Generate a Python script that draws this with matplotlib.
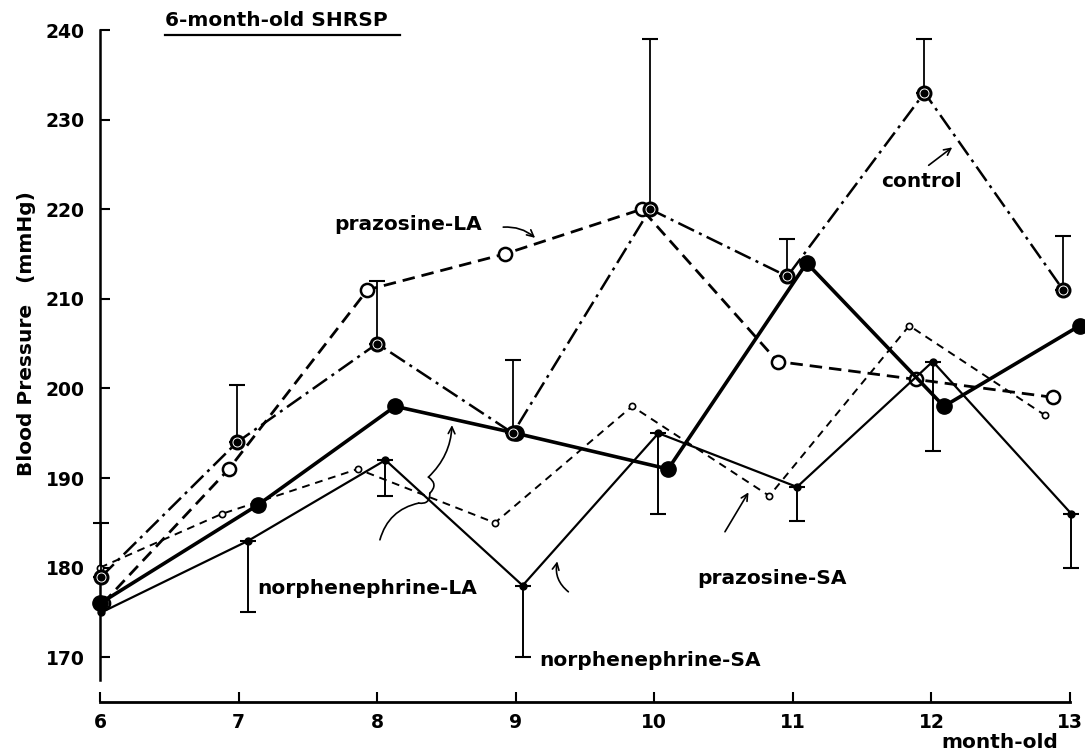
import matplotlib
matplotlib.use("Agg")
import matplotlib.pyplot as plt
from matplotlib.lines import Line2D
import numpy as np

# ---------------- data ----------------
months = [6, 7, 8, 9, 10, 11, 12, 13]
x_ticks = [6, 7, 8, 9, 10, 11, 12, 13]
y_ticks = [170, 180, 190, 200, 210, 220, 230, 240]

control = [179, 194, 205, 195, 220, 212.5, 233, 211]
control_se = [6, 6.4, 7, 8.2, 19, 4.2, 6, 6]          # upper error bars

prazosine_la = [176, 191, 211, 215, 220, 203, 201, 199]
norphen_la = [176, 187, 198, 195, 191, 214, 198, 207]

norphen_sa = [175, 183, 192, 178, 195, 189, 203, 186]
norphen_sa_se = [np.nan, 8, 4, 8, 9, 3.8, 10, 6]       # lower error bars

prazosine_sa = [180, 186, 191, 185, 198, 188, 207, 197]

# ---------------- figure ----------------
W, H = 1085, 754
fig = plt.figure(figsize=(W / 100, H / 100), dpi=100)
ax = fig.add_axes([100 / W, 1 - 702 / H, 970 / W, 672 / H])
ax.set_xlim(6, 13)
ax.set_ylim(165, 240)

FONT = "DejaVu Sans"

# horizontal dodge of each series (style, not data)
off_control = [0.01, -0.01, 0.0, -0.02, -0.03, -0.04, -0.05, -0.05]
off_pla = [0.02, -0.07, -0.07, -0.08, -0.09, -0.11, -0.11, -0.12]
off_nla = [0.0, 0.14, 0.13, 0.0, 0.10, 0.10, 0.09, 0.07]
off_nsa = [0.01, 0.07, 0.06, 0.05, 0.03, 0.03, 0.01, 0.01]
off_psa = [0.0, -0.12, -0.14, -0.15, -0.16, -0.17, -0.16, -0.18]

def xs(off):
    return [m + o for m, o in zip(months, off)]

# prazosine-SA: thin short dashes, small open circles
ax.plot(xs(off_psa), prazosine_sa, color="black", lw=1.4, dashes=(4, 3),
        marker="o", ms=4.5, mfc="white", mec="black", mew=1.2, clip_on=False, zorder=3)

# prazosine-LA: heavy dashes, large open circles
ax.plot(xs(off_pla), prazosine_la, color="black", lw=2.0, dashes=(4.5, 2.5),
        marker="o", ms=9.5, mfc="white", mec="black", mew=1.8, clip_on=False, zorder=4)

# control: dash-dot
ax.plot(xs(off_control), control, color="black", lw=1.8, dashes=(7, 2.2, 1.2, 2.2),
        clip_on=False, zorder=4)
ax.errorbar(xs(off_control), control, yerr=[np.zeros(len(control)), control_se],
            fmt="none", ecolor="black", elinewidth=1.3, capsize=6, capthick=1.5,
            clip_on=False, zorder=3)
ax.plot(xs(off_control), control, ls="none", marker="o", ms=10.5, mfc="black",
        mec="black", clip_on=False, zorder=6)
ax.plot(xs(off_control), control, ls="none", marker="o", ms=6.5, mfc="black",
        mec="white", mew=0.7, clip_on=False, zorder=7)

# norphenephrine-SA: thin solid, small dots, lower error bars
ax.plot(xs(off_nsa), norphen_sa, color="black", lw=1.6, marker="o", ms=5,
        mfc="black", mec="black", clip_on=False, zorder=5)
ax.errorbar(xs(off_nsa)[1:], norphen_sa[1:],
            yerr=[norphen_sa_se[1:], np.zeros(len(norphen_sa) - 1)],
            fmt="none", ecolor="black", elinewidth=1.4, capsize=6, capthick=1.5,
            clip_on=False, zorder=3)

# norphenephrine-LA: thick solid, large filled circles
ax.plot(xs(off_nla), norphen_la, color="black", lw=2.6, marker="o", ms=11,
        mfc="black", mec="black", clip_on=False, zorder=6)

# ---------------- axes styling ----------------
for s in ["top", "right"]:
    ax.spines[s].set_visible(False)
ax.spines["left"].set_bounds(167.5, 240)
ax.spines["left"].set_linewidth(1.8)
ax.spines["bottom"].set_linewidth(2.0)
ax.spines["bottom"].set_bounds(6, 13)

ax.set_xticks(x_ticks)
ax.set_yticks(y_ticks)
ax.set_xticklabels([str(v) for v in x_ticks], fontfamily=FONT, fontweight="bold", fontsize=13.5)
ax.set_yticklabels([str(v) for v in y_ticks], fontfamily=FONT, fontweight="bold", fontsize=13.5)
ax.tick_params(axis="x", direction="in", length=7, width=1.5, pad=8)
ax.tick_params(axis="y", direction="in", length=7, width=1.5, pad=11)

txt = dict(fontfamily=FONT, fontweight="bold", fontsize=14.5, color="black")

# labels
fig.text(27 / W, 1 - 334 / H, "Blood Pressure   (mmHg)", rotation=90,
         ha="center", va="center", **txt)
fig.text(1000 / W, 1 - 742 / H, "month-old", ha="center", va="center", **txt)
fig.text(165 / W, 1 - 20 / H, "6-month-old SHRSP", ha="left", va="center",
         fontfamily=FONT, fontweight="bold", fontsize=14.5)
fig.add_artist(Line2D([165 / W, 400 / W], [1 - 35 / H, 1 - 35 / H], color="black",
                      lw=1.6, transform=fig.transFigure))

# series annotations
arrow = dict(arrowstyle="->", color="black", lw=1.2, shrinkA=0, shrinkB=0,
             mutation_scale=12)

ax.text(8.22, 218.3, "prazosine-LA", ha="center", va="center", **txt)
ax.annotate("", xy=(9.14, 216.8), xytext=(8.91, 218.0),
            arrowprops=dict(arrow, connectionstyle="arc3,rad=-0.2"))

ax.text(11.93, 223.1, "control", ha="center", va="center", **txt)
ax.annotate("", xy=(12.15, 226.9), xytext=(11.98, 224.9),
            arrowprops=dict(arrow, connectionstyle="arc3,rad=0.0"))

ax.text(7.93, 177.7, "norphenephrine-LA", ha="center", va="center", **txt)
# brace-like connector and arrow
ax.annotate("", xy=(8.3, 187.2), xytext=(8.02, 183.1),
            arrowprops=dict(arrowstyle="-", color="black", lw=1.2,
                            connectionstyle="arc3,rad=-0.3", shrinkA=0, shrinkB=0))
ax.annotate("", xy=(8.38, 188.3), xytext=(8.3, 187.2),
            arrowprops=dict(arrowstyle="-", color="black", lw=1.2,
                            connectionstyle="arc3,rad=0.6", shrinkA=0, shrinkB=0))
ax.annotate("", xy=(8.37, 190.1), xytext=(8.38, 188.3),
            arrowprops=dict(arrowstyle="-", color="black", lw=1.2,
                            connectionstyle="arc3,rad=0.6", shrinkA=0, shrinkB=0))
ax.annotate("", xy=(8.54, 195.9), xytext=(8.37, 190.1),
            arrowprops=dict(arrow, connectionstyle="arc3,rad=0.2"))

ax.text(9.97, 169.6, "norphenephrine-SA", ha="center", va="center", **txt)
ax.annotate("", xy=(9.30, 180.7), xytext=(9.38, 177.3),
            arrowprops=dict(arrow, connectionstyle="arc3,rad=-0.3"))

ax.text(10.85, 178.8, "prazosine-SA", ha="center", va="center", **txt)
ax.annotate("", xy=(10.68, 188.4), xytext=(10.51, 184.0),
            arrowprops=dict(arrow, connectionstyle="arc3,rad=0.0"))

fig.savefig("out.png", dpi=100, facecolor="white")
